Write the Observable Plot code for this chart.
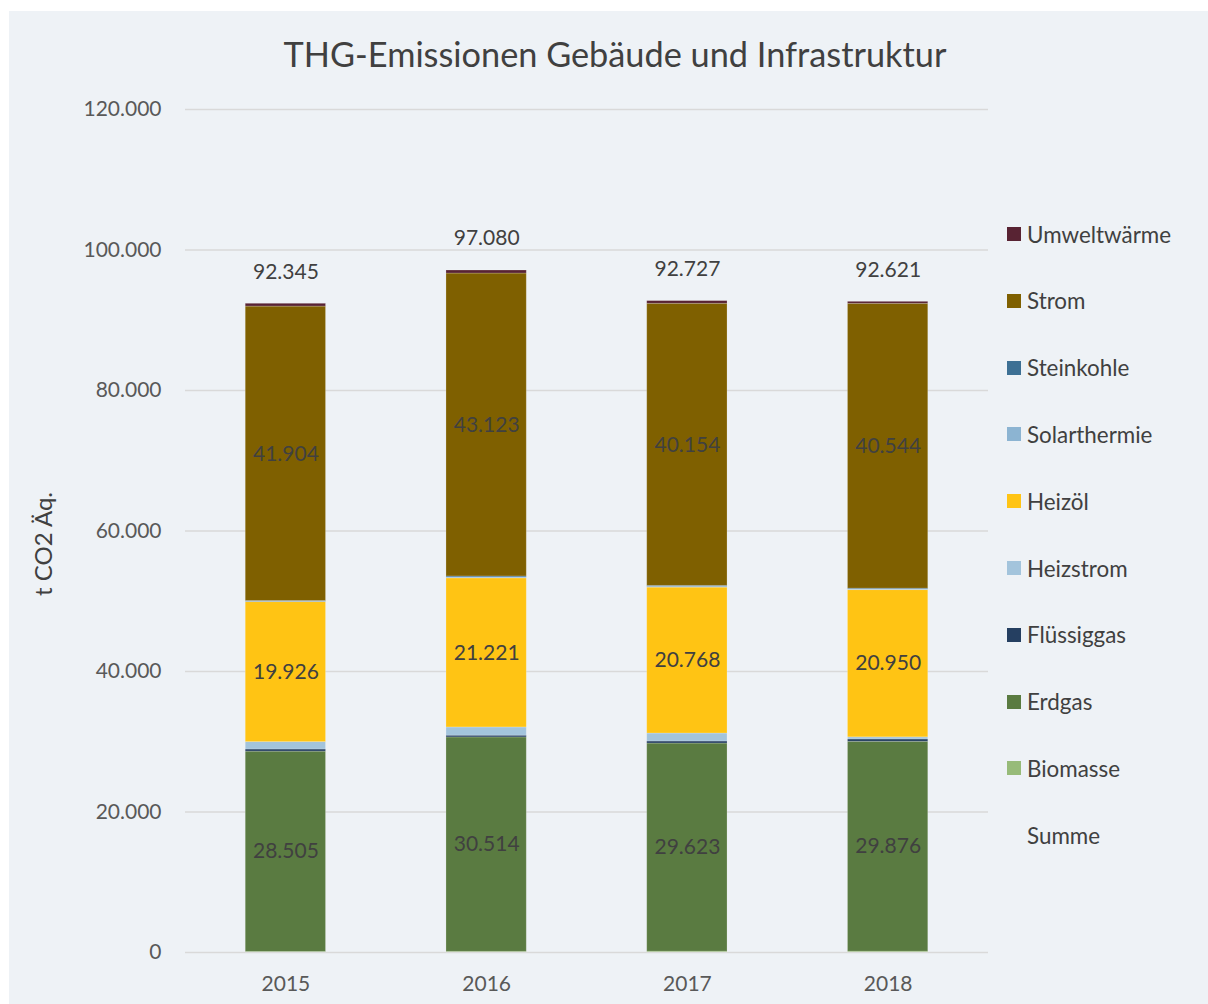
<!DOCTYPE html>
<html>
<head>
<meta charset="utf-8">
<script src="https://cdn.jsdelivr.net/npm/d3@7"></script>
<script src="https://cdn.jsdelivr.net/npm/@observablehq/plot@0.6"></script>
<style>
  body { margin: 0; background: #ffffff; }
  #wrap { position: relative; width: 1208px; height: 1004px; background: #ffffff; overflow: hidden; font-family: Lato, "Open Sans", sans-serif; }
  #panel { position: absolute; left: 9px; top: 11px; width: 1199px; height: 993px; background: #eef2f6; }
  #title { position: absolute; left: 0; width: 1212px; top: 22px; text-align: center; font-size: 34.3px; color: #404040; white-space: nowrap; }
  #legend { position: absolute; left: 998px; top: 208px; }
  .item { position: absolute; left: 0; height: 30px; display: flex; align-items: center; font-size: 22.4px; color: #404040; white-space: nowrap; }
  .sw { width: 14px; height: 14px; margin-right: 6px; display: inline-block; }
  #chart { position: absolute; left: 0; top: 0; }
</style>
</head>
<body>
<div id="wrap">
  <div id="panel">
    <div id="chart"></div>
    <div id="title">THG-Emissionen Gebäude und Infrastruktur</div>
    <div id="legend"></div>
  </div>
</div>
<script>
// Data (t CO2 Äq.)
const years = ["2015", "2016", "2017", "2018"];
const categories = ["Biomasse", "Erdgas", "Flüssiggas", "Heizstrom", "Heizöl", "Solarthermie", "Steinkohle", "Strom", "Umweltwärme"];
const colors = ["#97bb79", "#5a7b41", "#253f61", "#a3c4dc", "#ffc414", "#8cb4d2", "#3d7094", "#7f6000", "#582333"];
const biomasse = [90, 102, 122, 121];
const erdgas = [28505, 30514, 29623, 29876];
const fluessiggas = [300, 250, 290, 330];
const heizstrom = [1050, 1170, 1140, 300];
const heizoel = [19926, 21221, 20768, 20950];
const solarthermie = [50, 120, 110, 100];
const steinkohle = [120, 150, 140, 120];
const strom = [41904, 43123, 40154, 40544];
const umweltwaerme = [400, 430, 380, 280];
const summe = [92345, 97080, 92727, 92621];
const labeled = ["Erdgas", "Heizöl", "Strom"];
const yTicks = [0, 20000, 40000, 60000, 80000, 100000, 120000];

const series = [biomasse, erdgas, fluessiggas, heizstrom, heizoel, solarthermie, steinkohle, strom, umweltwaerme];
const table = [];
years.forEach((yr, i) => {
  categories.forEach((c, k) => table.push({year: yr, cat: c, value: series[k][i]}));
});

const fmt = d3.formatLocale({decimal: ",", thousands: ".", grouping: [3], currency: ["", "€"]}).format(",d");

const chart = Plot.plot({
  width: 1199,
  height: 993,
  marginLeft: 176,
  marginRight: 220,
  marginTop: 98,
  marginBottom: 52,
  style: {background: "transparent", fontFamily: "Lato, 'Open Sans', sans-serif", fontSize: "21px", color: "#595959", overflow: "visible"},
  x: {domain: years, paddingInner: 0.6, paddingOuter: 0.3, round: false, label: null, tickSize: 0, tickPadding: 24},
  y: {domain: [0, 120000], ticks: yTicks, tickFormat: fmt, label: null, tickSize: 0, tickPadding: 24},
  color: {domain: categories, range: colors},
  marks: [
    Plot.gridY(yTicks, {stroke: "#d9d9d9", strokeOpacity: 1, strokeWidth: 1.3}),
    Plot.barY(table, {x: "year", y: "value", fill: "cat", order: categories, stroke: "#ffffff", strokeOpacity: 0.25, strokeWidth: 0.8}),
    Plot.text(table, Plot.stackY({
      x: "year", y: "value", z: "cat", order: categories,
      text: d => labeled.includes(d.cat) ? fmt(d.value) : "",
      fill: "#404040", fontSize: 21
    })),
    Plot.text(years, {x: d => d, y: (d, i) => summe[i], text: (d, i) => fmt(summe[i]), dy: -32, fill: "#404040", fontSize: 21}),
    Plot.text(["t CO2 Äq."], {frameAnchor: "left", textAnchor: "middle", rotate: -90, dx: -141, dy: 13, fill: "#404040", fontSize: 24})
  ]
});
document.getElementById("chart").appendChild(chart);

// Legend (top to bottom: reverse stacking order), plus the invisible "Summe" series
const legend = document.getElementById("legend");
const legendItems = categories.map((c, k) => ({name: c, color: colors[k]})).reverse();
legendItems.push({name: "Summe", color: null});
legendItems.forEach((it, j) => {
  const div = document.createElement("div");
  div.className = "item";
  div.style.top = (j * 66.8) + "px";
  const sw = document.createElement("span");
  sw.className = "sw";
  sw.style.background = it.color || "transparent";
  div.appendChild(sw);
  div.appendChild(document.createTextNode(it.name));
  legend.appendChild(div);
});
</script>
</body>
</html>
